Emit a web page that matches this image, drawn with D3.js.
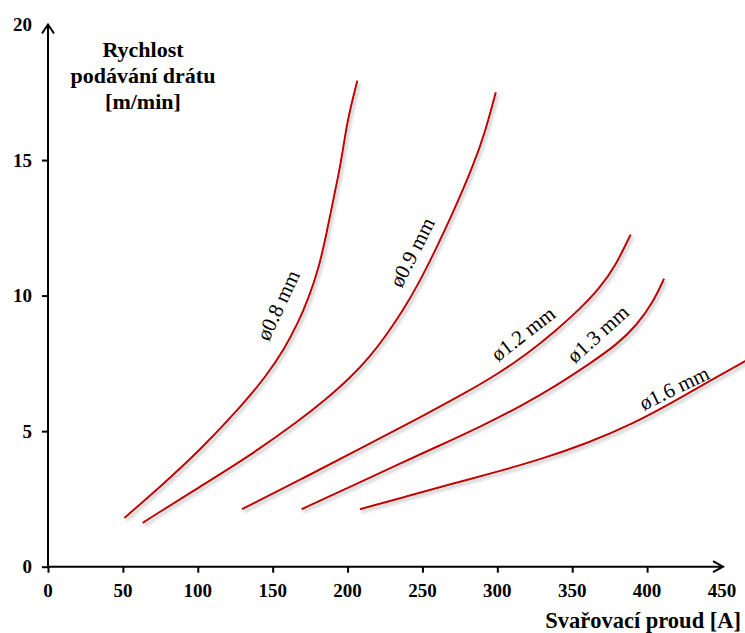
<!DOCTYPE html>
<html><head><meta charset="utf-8">
<script src="https://cdn.jsdelivr.net/npm/d3@7"></script>
<style>
body{margin:0;background:#fff;}
svg{display:block;}
text{font-family:"Liberation Serif","Times New Roman",serif;}
</style></head>
<body>
<svg id="chart" width="745" height="633"></svg>
<script>
// ---- data ----
const xTicks = [0,50,100,150,200,250,300,350,400,450];
const yTicks = [0,5,10,15,20];
const seriesNames = ["ø0.8 mm","ø0.9 mm","ø1.2 mm","ø1.3 mm","ø1.6 mm"];
const wire08 = [[51,1.8],[76,3.0],[101.5,4.3],[128,5.85],[146,7.05],[158,8.05],[167,9.0],[174,9.9],[181,11.05],[186,12.3],[190,13.4],[194,14.45],[197,15.4],[199.5,16.3],[203,17.15],[206.5,17.93]];
const wire09 = [[63.2,1.62],[101.5,2.95],[135,4.1],[168,5.4],[185,6.15],[201.6,6.95],[215,7.75],[226,8.55],[237,9.45],[247,10.4],[258,11.6],[270,13.0],[284,14.8],[292,16.05],[299,17.5]];
const wire12 = [[129.5,2.12],[170,3.25],[210,4.4],[250,5.55],[280,6.45],[300,7.1],[320,7.85],[340,8.75],[355,9.5],[368,10.25],[379,11.1],[389,12.25]];
const wire13 = [[169.4,2.12],[200,2.9],[230,3.68],[260,4.43],[290,5.2],[315,5.9],[340,6.7],[362,7.5],[380,8.2],[393,8.9],[404,9.75],[411.3,10.62]];
const wire16 = [[208.3,2.12],[240,2.6],[270,3.06],[300,3.5],[330,3.98],[360,4.55],[390,5.25],[420,6.15],[445,6.95],[466,7.6]];
// label anchor in data units and rotation
const labelX = [153.5,243,317,367,418];
const labelY = [9.65,11.6,8.6,8.6,6.6];
const labelAngle = [-65,-63,-38,-42,-26];
const xTitle = "Svařovací proud [A]";
const yTitle = ["Rychlost","podávání drátu","[m/min]"];

const series = [wire08,wire09,wire12,wire13,wire16];

const svg = d3.select("#chart");
const x = d3.scaleLinear().domain([0,450]).range([48,722]);
const y = d3.scaleLinear().domain([0,20]).range([566.7,24.5]);

const defs = svg.append("defs");
const f = defs.append("filter").attr("id","sh").attr("x","-20%").attr("y","-20%").attr("width","140%").attr("height","140%");
f.append("feDropShadow").attr("dx",2).attr("dy",2.5).attr("stdDeviation",1.4)
  .attr("flood-color","#777").attr("flood-opacity",0.5);

// curves
const line = d3.line().x(d=>x(d[0])).y(d=>y(d[1])).curve(d3.curveBasis);
svg.append("g").selectAll("path").data(series).join("path")
  .attr("d",line).attr("fill","none").attr("stroke","#c00000")
  .attr("stroke-width",2).attr("filter","url(#sh)");

// labels
svg.append("g").selectAll("text").data(seriesNames).join("text")
  .attr("transform",(d,i)=>`translate(${x(labelX[i])},${y(labelY[i])}) rotate(${labelAngle[i]})`)
  .attr("text-anchor","middle").attr("dy","0.35em")
  .attr("font-size",21).attr("fill","#000").text(d=>d);

// axes
const ax = svg.append("g").attr("stroke","#000").attr("stroke-width",2).attr("fill","none");
ax.append("line").attr("x1",x(0)).attr("x2",x(450)+1).attr("y1",y(0)).attr("y2",y(0));
ax.append("line").attr("x1",x(0)).attr("x2",x(0)).attr("y1",y(0)+1).attr("y2",y(20));
ax.append("path").attr("d",`M${x(0)-6},${y(20)+9}L${x(0)},${y(20)}L${x(0)+6},${y(20)+9}`);
ax.append("path").attr("d",`M${x(450)-9},${y(0)-5.5}L${x(450)+1},${y(0)}L${x(450)-9},${y(0)+5.5}`);

const xAxis = d3.axisBottom(x).tickValues(xTicks.slice(0,-1)).tickSize(6).tickFormat(d3.format("d"));
const gx = svg.append("g").attr("transform",`translate(0,${y(0)})`).call(xAxis);
gx.select(".domain").remove();
gx.selectAll(".tick line").attr("stroke","#000").attr("stroke-width",2);
gx.selectAll(".tick text").remove();
svg.append("g").selectAll("text").data(xTicks).join("text")
  .attr("x",d=>x(d)).attr("y",597).attr("text-anchor","middle")
  .attr("font-size",19).attr("font-weight","bold").text(d=>d);

const yAxis = d3.axisLeft(y).tickValues(yTicks.slice(0,-1)).tickSize(6);
const gy = svg.append("g").attr("transform",`translate(${x(0)},0)`).call(yAxis);
gy.select(".domain").remove();
gy.selectAll(".tick line").attr("stroke","#000").attr("stroke-width",2);
gy.selectAll(".tick text").remove();
svg.append("g").selectAll("text").data(yTicks).join("text")
  .attr("x",32).attr("y",d=>y(d)).attr("dy","0.35em").attr("text-anchor","end")
  .attr("font-size",19).attr("font-weight","bold").text(d=>d);

// titles
svg.append("text").attr("x",741).attr("y",628).attr("text-anchor","end")
  .attr("font-size",22.5).attr("font-weight","bold").text(xTitle);
svg.append("g").selectAll("text").data(yTitle).join("text")
  .attr("x",143).attr("y",(d,i)=>57+i*26).attr("text-anchor","middle")
  .attr("font-size",22).attr("font-weight","bold").text(d=>d);
</script>
</body></html>
